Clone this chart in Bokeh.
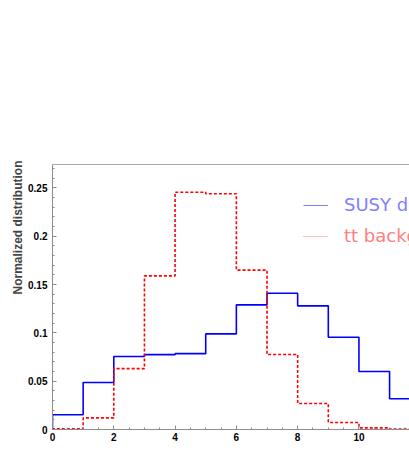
from bokeh.plotting import figure
from bokeh.embed import file_html
from bokeh.resources import INLINE
from bokeh.models import (Legend, LegendItem, LinearAxis, SingleIntervalTicker, FixedTicker,
                          CustomJSTickFormatter, Title, Range1d)

# ---- data (bin width 1, starting at 0) ----
bin_edges = [0, 1, 2, 3, 4, 5, 6, 7, 8, 9, 10, 11, 12]
susy = [0.0152, 0.0487, 0.0756, 0.0775, 0.0785, 0.0990, 0.1290, 0.1410,
        0.1280, 0.0955, 0.0600, 0.0318]
ttbar = [0.0007, 0.0120, 0.0630, 0.1590, 0.2455, 0.2440, 0.1650, 0.0776,
         0.0269, 0.0072, 0.0017, 0.0005]
legend_labels = ["SUSY decays", "tt background"]
x_ticks_interval = 2
y_ticks_interval = 0.05


def step_xy(edges, vals):
    xs = [edges[0]] + list(edges[:len(vals) + 1])
    ys = [0] + list(vals) + [vals[-1]]
    return xs, ys


p = figure(width=409, height=463, output_backend="svg", toolbar_location=None,
           x_range=Range1d(0, 11.65), y_range=Range1d(0, 0.2743),
           min_border_left=52, min_border_right=0, min_border_top=164,
           min_border_bottom=34)
p.outline_line_color = None
p.grid.visible = False
p.background_fill_color = "white"
p.border_fill_color = "white"

sx, sy = step_xy(bin_edges, susy)
tx, ty = step_xy(bin_edges, ttbar)
p.step(sx, sy, mode="after", line_color="#0000ff", line_width=1.6)
p.step(tx, ty, mode="after", line_color="#ff0000", line_width=1.6, line_dash="3 2")

axis_col = "#8c8c8c"
for ax in (p.xaxis[0], p.yaxis[0]):
    ax.axis_line_color = axis_col
    ax.major_tick_line_color = axis_col
    ax.minor_tick_line_color = axis_col
    ax.major_tick_in = 4
    ax.major_tick_out = 0
    ax.minor_tick_in = 2
    ax.minor_tick_out = 0
    ax.major_label_text_font = "Liberation Sans"
    ax.major_label_text_font_style = "bold"
    ax.major_label_text_font_size = "10px"
    ax.major_label_text_color = "black"

p.xaxis[0].ticker = SingleIntervalTicker(interval=x_ticks_interval, num_minor_ticks=4)
p.yaxis[0].ticker = SingleIntervalTicker(interval=y_ticks_interval, num_minor_ticks=5)
p.yaxis[0].formatter = CustomJSTickFormatter(code="return Number(tick.toFixed(2)).toString();")
p.xaxis[0].major_label_standoff = 3
p.yaxis[0].major_label_standoff = 5

# top border
top = LinearAxis(axis_line_color="#aaaaaa", ticker=FixedTicker(ticks=[]),
                 major_tick_line_color=None, minor_tick_line_color=None)
p.add_layout(top, "above")

# y label as left title aligned to top
p.add_layout(Title(text="Normalized distribution", align="right",
                   text_font="Liberation Sans", text_font_style="bold",
                   text_font_size="12px", standoff=2, offset=-4), "left")

# legends
nan = float("nan")
r1 = p.line([nan], [nan], line_color="#8080ff", line_width=1)
r2 = p.line([nan], [nan], line_color="#ff8080", line_width=1, line_dash="1 1")
common = dict(padding=0, margin=0, border_line_alpha=0, background_fill_alpha=0,
              glyph_width=25, glyph_height=20, label_height=20, label_standoff=16,
              label_text_font="DejaVu Sans", label_text_font_size="18px")
lg1 = Legend(items=[LegendItem(label=legend_labels[0], renderers=[r1])],
             location=(251, 214), label_text_color="#7f7fff", **common)
lg2 = Legend(items=[LegendItem(label=legend_labels[1], renderers=[r2])],
             location=(251, 183), label_text_color="#ff7f7f", **common)
p.add_layout(lg1)
p.add_layout(lg2)

open("out.html", "w").write(file_html(p, INLINE))
